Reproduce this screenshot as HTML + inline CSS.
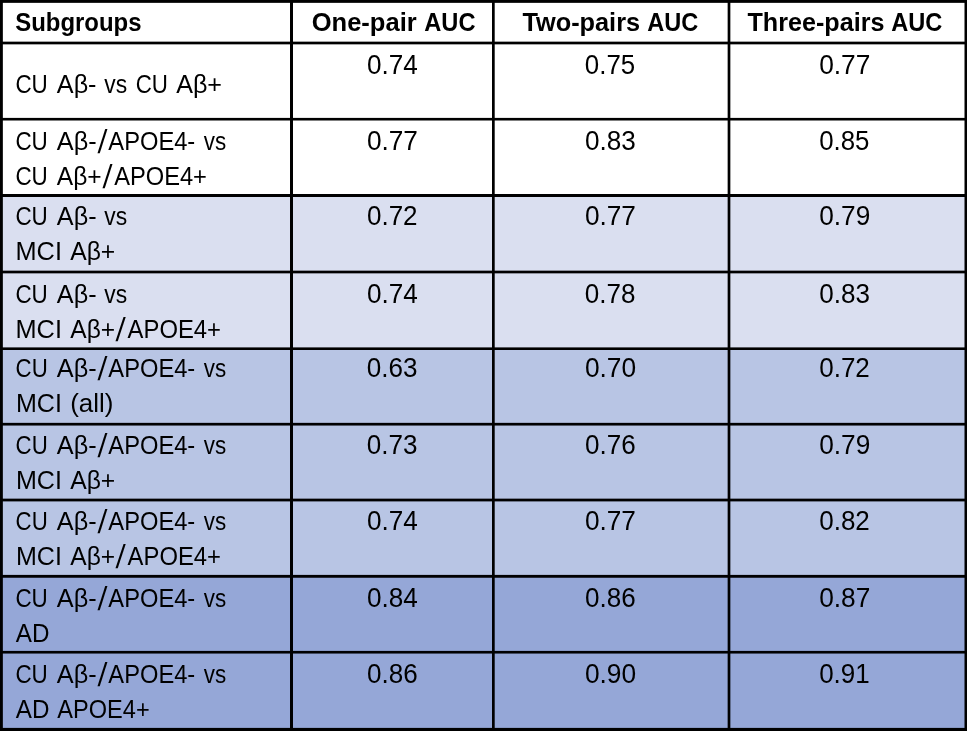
<!DOCTYPE html>
<html lang="en">
<head>
<meta charset="utf-8">
<title>Subgroup AUC table</title>
<style>
html,body{margin:0;padding:0;background:#fff;}
body{width:967px;height:731px;overflow:hidden;}
svg{display:block;}
text{font-family:"Liberation Sans",sans-serif;fill:#000;white-space:pre;}
.b{font-weight:bold;}
</style>
</head>
<body>
<svg width="967" height="731" viewBox="0 0 967 731">
<!-- row shading -->
<rect x="0" y="0" width="967" height="195.5" fill="#ffffff"/>
<rect x="0" y="195.5" width="967" height="153.2" fill="#dadff0"/>
<rect x="0" y="348.7" width="967" height="227.6" fill="#b8c5e4"/>
<rect x="0" y="576.3" width="967" height="154.7" fill="#95a7d7"/>
<!-- grid lines -->
<g fill="#000">
<rect x="0" y="0" width="967" height="2.85"/>
<rect x="0" y="41.65" width="967" height="2.7"/>
<rect x="0" y="117.9" width="967" height="2.6"/>
<rect x="0" y="194" width="967" height="3"/>
<rect x="0" y="270.65" width="967" height="2.7"/>
<rect x="0" y="347.4" width="967" height="2.6"/>
<rect x="0" y="422.85" width="967" height="2.7"/>
<rect x="0" y="498.65" width="967" height="2.75"/>
<rect x="0" y="574.9" width="967" height="2.85"/>
<rect x="0" y="650.9" width="967" height="2.65"/>
<rect x="0" y="727.9" width="967" height="3.1"/>
<rect x="0" y="0" width="2.85" height="731"/>
<rect x="290" y="0" width="3" height="731"/>
<rect x="492" y="0" width="2.7" height="731"/>
<rect x="727.65" y="0" width="2.7" height="731"/>
<rect x="964.5" y="0" width="2.5" height="731"/>
</g>
<!-- cell text -->
<filter id="soft" x="0" y="0" width="967" height="731" filterUnits="userSpaceOnUse"><feGaussianBlur stdDeviation="0.35"/></filter>
<g filter="url(#soft)">
<text id="t0" x="15.20" y="30.60" class="b" font-size="26.3" textLength="126.30" lengthAdjust="spacingAndGlyphs">Subgroups</text>
<text id="t1" x="311.70" y="30.60" class="b" font-size="26.3" textLength="104.98" lengthAdjust="spacingAndGlyphs">One-pair</text>
<text id="t2" x="424.25" y="30.60" class="b" font-size="26.3" textLength="51.22" lengthAdjust="spacingAndGlyphs">AUC</text>
<text id="t3" x="522.41" y="30.60" class="b" font-size="26.3" textLength="117.67" lengthAdjust="spacingAndGlyphs">Two-pairs</text>
<text id="t4" x="647.24" y="30.60" class="b" font-size="26.3" textLength="51.01" lengthAdjust="spacingAndGlyphs">AUC</text>
<text id="t5" x="747.48" y="30.60" class="b" font-size="26.3" textLength="137.00" lengthAdjust="spacingAndGlyphs">Three-pairs</text>
<text id="t6" x="891.25" y="30.60" class="b" font-size="26.3" textLength="51.06" lengthAdjust="spacingAndGlyphs">AUC</text>
<text id="t7" x="15.41" y="92.70" font-size="26.3" textLength="32.40" lengthAdjust="spacingAndGlyphs">CU</text>
<text id="t8" x="56.83" y="92.70" font-size="26.3" textLength="39.69" lengthAdjust="spacingAndGlyphs">Aβ-</text>
<text id="t9" x="104.26" y="92.70" font-size="26.3" textLength="22.85" lengthAdjust="spacingAndGlyphs">vs</text>
<text id="t10" x="135.72" y="92.70" font-size="26.3" textLength="32.18" lengthAdjust="spacingAndGlyphs">CU</text>
<text id="t11" x="176.16" y="92.70" font-size="26.3" textLength="45.90" lengthAdjust="spacingAndGlyphs">Aβ+</text>
<text id="t12" x="15.41" y="149.80" font-size="26.3" textLength="32.40" lengthAdjust="spacingAndGlyphs">CU</text>
<text id="t13" x="56.79" y="149.80" font-size="26.3" textLength="39.83" lengthAdjust="spacingAndGlyphs">Aβ-</text>
<text id="t14" transform="matrix(1.100 0 -0.1004 1.258 97.44 153.17)" font-size="26.3">/</text>
<text id="t15" x="108.37" y="149.80" font-size="26.3" textLength="86.91" lengthAdjust="spacingAndGlyphs">APOE4-</text>
<text id="t16" x="203.84" y="149.80" font-size="26.3" textLength="22.43" lengthAdjust="spacingAndGlyphs">vs</text>
<text id="t17" x="15.41" y="184.85" font-size="26.3" textLength="32.40" lengthAdjust="spacingAndGlyphs">CU</text>
<text id="t18" x="56.78" y="184.85" font-size="26.3" textLength="44.91" lengthAdjust="spacingAndGlyphs">Aβ+</text>
<text id="t19" transform="matrix(1.100 0 -0.1024 1.258 102.52 188.22)" font-size="26.3">/</text>
<text id="t20" x="114.20" y="184.85" font-size="26.3" textLength="92.76" lengthAdjust="spacingAndGlyphs">APOE4+</text>
<text id="t21" x="15.42" y="224.70" font-size="26.3" textLength="32.40" lengthAdjust="spacingAndGlyphs">CU</text>
<text id="t22" x="56.85" y="224.70" font-size="26.3" textLength="39.69" lengthAdjust="spacingAndGlyphs">Aβ-</text>
<text id="t23" x="104.27" y="224.70" font-size="26.3" textLength="22.85" lengthAdjust="spacingAndGlyphs">vs</text>
<text id="t24" x="15.53" y="259.75" font-size="26.3" textLength="46.41" lengthAdjust="spacingAndGlyphs">MCI</text>
<text id="t25" x="70.16" y="259.75" font-size="26.3" textLength="45.10" lengthAdjust="spacingAndGlyphs">Aβ+</text>
<text id="t26" x="15.42" y="302.70" font-size="26.3" textLength="32.40" lengthAdjust="spacingAndGlyphs">CU</text>
<text id="t27" x="56.85" y="302.70" font-size="26.3" textLength="39.69" lengthAdjust="spacingAndGlyphs">Aβ-</text>
<text id="t28" x="104.27" y="302.70" font-size="26.3" textLength="22.85" lengthAdjust="spacingAndGlyphs">vs</text>
<text id="t29" x="15.53" y="337.75" font-size="26.3" textLength="46.41" lengthAdjust="spacingAndGlyphs">MCI</text>
<text id="t30" x="70.27" y="337.75" font-size="26.3" textLength="44.89" lengthAdjust="spacingAndGlyphs">Aβ+</text>
<text id="t31" transform="matrix(1.100 0 -0.1155 1.258 115.61 341.12)" font-size="26.3">/</text>
<text id="t32" x="127.61" y="337.75" font-size="26.3" textLength="93.36" lengthAdjust="spacingAndGlyphs">APOE4+</text>
<text id="t33" x="15.62" y="376.80" font-size="26.3" textLength="32.09" lengthAdjust="spacingAndGlyphs">CU</text>
<text id="t34" x="56.80" y="376.80" font-size="26.3" textLength="39.83" lengthAdjust="spacingAndGlyphs">Aβ-</text>
<text id="t35" transform="matrix(1.100 0 -0.0980 1.258 97.45 380.17)" font-size="26.3">/</text>
<text id="t36" x="108.37" y="376.80" font-size="26.3" textLength="86.91" lengthAdjust="spacingAndGlyphs">APOE4-</text>
<text id="t37" x="203.85" y="376.80" font-size="26.3" textLength="22.42" lengthAdjust="spacingAndGlyphs">vs</text>
<text id="t38" x="15.97" y="411.85" font-size="26.3" textLength="45.94" lengthAdjust="spacingAndGlyphs">MCI</text>
<text id="t39" x="70.14" y="411.85" font-size="26.3" textLength="43.30" lengthAdjust="spacingAndGlyphs">(all)</text>
<text id="t40" x="15.62" y="453.60" font-size="26.3" textLength="32.09" lengthAdjust="spacingAndGlyphs">CU</text>
<text id="t41" x="56.80" y="453.60" font-size="26.3" textLength="39.83" lengthAdjust="spacingAndGlyphs">Aβ-</text>
<text id="t42" transform="matrix(1.100 0 -0.0980 1.258 97.45 456.97)" font-size="26.3">/</text>
<text id="t43" x="108.37" y="453.60" font-size="26.3" textLength="86.91" lengthAdjust="spacingAndGlyphs">APOE4-</text>
<text id="t44" x="203.85" y="453.60" font-size="26.3" textLength="22.42" lengthAdjust="spacingAndGlyphs">vs</text>
<text id="t45" x="15.97" y="488.65" font-size="26.3" textLength="45.94" lengthAdjust="spacingAndGlyphs">MCI</text>
<text id="t46" x="70.16" y="488.65" font-size="26.3" textLength="45.10" lengthAdjust="spacingAndGlyphs">Aβ+</text>
<text id="t47" x="15.62" y="529.60" font-size="26.3" textLength="32.09" lengthAdjust="spacingAndGlyphs">CU</text>
<text id="t48" x="56.80" y="529.60" font-size="26.3" textLength="39.83" lengthAdjust="spacingAndGlyphs">Aβ-</text>
<text id="t49" transform="matrix(1.100 0 -0.0980 1.258 97.45 532.97)" font-size="26.3">/</text>
<text id="t50" x="108.37" y="529.60" font-size="26.3" textLength="86.91" lengthAdjust="spacingAndGlyphs">APOE4-</text>
<text id="t51" x="203.85" y="529.60" font-size="26.3" textLength="22.42" lengthAdjust="spacingAndGlyphs">vs</text>
<text id="t52" x="15.97" y="564.65" font-size="26.3" textLength="45.94" lengthAdjust="spacingAndGlyphs">MCI</text>
<text id="t53" x="70.27" y="564.65" font-size="26.3" textLength="44.88" lengthAdjust="spacingAndGlyphs">Aβ+</text>
<text id="t54" transform="matrix(1.100 0 -0.1153 1.258 115.62 568.02)" font-size="26.3">/</text>
<text id="t55" x="127.62" y="564.65" font-size="26.3" textLength="93.35" lengthAdjust="spacingAndGlyphs">APOE4+</text>
<text id="t56" x="15.43" y="606.70" font-size="26.3" textLength="32.38" lengthAdjust="spacingAndGlyphs">CU</text>
<text id="t57" x="56.81" y="606.70" font-size="26.3" textLength="39.82" lengthAdjust="spacingAndGlyphs">Aβ-</text>
<text id="t58" transform="matrix(1.100 0 -0.0989 1.258 97.45 610.07)" font-size="26.3">/</text>
<text id="t59" x="108.37" y="606.70" font-size="26.3" textLength="86.89" lengthAdjust="spacingAndGlyphs">APOE4-</text>
<text id="t60" x="203.86" y="606.70" font-size="26.3" textLength="22.42" lengthAdjust="spacingAndGlyphs">vs</text>
<text id="t61" x="15.76" y="641.75" font-size="26.3" textLength="33.63" lengthAdjust="spacingAndGlyphs">AD</text>
<text id="t62" x="15.43" y="682.70" font-size="26.3" textLength="32.38" lengthAdjust="spacingAndGlyphs">CU</text>
<text id="t63" x="56.81" y="682.70" font-size="26.3" textLength="39.82" lengthAdjust="spacingAndGlyphs">Aβ-</text>
<text id="t64" transform="matrix(1.100 0 -0.0989 1.258 97.45 686.07)" font-size="26.3">/</text>
<text id="t65" x="108.37" y="682.70" font-size="26.3" textLength="86.89" lengthAdjust="spacingAndGlyphs">APOE4-</text>
<text id="t66" x="203.86" y="682.70" font-size="26.3" textLength="22.42" lengthAdjust="spacingAndGlyphs">vs</text>
<text id="t67" x="15.76" y="717.75" font-size="26.3" textLength="33.63" lengthAdjust="spacingAndGlyphs">AD</text>
<text id="t68" x="57.37" y="717.75" font-size="26.3" textLength="92.32" lengthAdjust="spacingAndGlyphs">APOE4+</text>
<text id="t69" x="366.93" y="73.90" font-size="27" textLength="50.86" lengthAdjust="spacingAndGlyphs">0.74</text>
<text id="t70" x="584.84" y="73.90" font-size="27" textLength="50.38" lengthAdjust="spacingAndGlyphs">0.75</text>
<text id="t71" x="819.18" y="73.90" font-size="27" textLength="51.21" lengthAdjust="spacingAndGlyphs">0.77</text>
<text id="t72" x="366.92" y="149.80" font-size="27" textLength="51.05" lengthAdjust="spacingAndGlyphs">0.77</text>
<text id="t73" x="584.97" y="149.80" font-size="27" textLength="50.81" lengthAdjust="spacingAndGlyphs">0.83</text>
<text id="t74" x="819.18" y="149.80" font-size="27" textLength="50.30" lengthAdjust="spacingAndGlyphs">0.85</text>
<text id="t75" x="366.95" y="224.70" font-size="27" textLength="50.64" lengthAdjust="spacingAndGlyphs">0.72</text>
<text id="t76" x="584.92" y="224.70" font-size="27" textLength="51.05" lengthAdjust="spacingAndGlyphs">0.77</text>
<text id="t77" x="819.20" y="224.70" font-size="27" textLength="51.05" lengthAdjust="spacingAndGlyphs">0.79</text>
<text id="t78" x="366.94" y="302.70" font-size="27" textLength="50.85" lengthAdjust="spacingAndGlyphs">0.74</text>
<text id="t79" x="584.81" y="302.70" font-size="27" textLength="50.67" lengthAdjust="spacingAndGlyphs">0.78</text>
<text id="t80" x="819.21" y="302.70" font-size="27" textLength="50.70" lengthAdjust="spacingAndGlyphs">0.83</text>
<text id="t81" x="366.82" y="376.80" font-size="27" textLength="50.74" lengthAdjust="spacingAndGlyphs">0.63</text>
<text id="t82" x="584.92" y="376.80" font-size="27" textLength="51.25" lengthAdjust="spacingAndGlyphs">0.70</text>
<text id="t83" x="819.20" y="376.80" font-size="27" textLength="50.66" lengthAdjust="spacingAndGlyphs">0.72</text>
<text id="t84" x="366.82" y="453.60" font-size="27" textLength="50.74" lengthAdjust="spacingAndGlyphs">0.73</text>
<text id="t85" x="584.96" y="453.60" font-size="27" textLength="50.74" lengthAdjust="spacingAndGlyphs">0.76</text>
<text id="t86" x="819.20" y="453.60" font-size="27" textLength="51.06" lengthAdjust="spacingAndGlyphs">0.79</text>
<text id="t87" x="366.94" y="529.60" font-size="27" textLength="50.85" lengthAdjust="spacingAndGlyphs">0.74</text>
<text id="t88" x="584.93" y="529.60" font-size="27" textLength="51.04" lengthAdjust="spacingAndGlyphs">0.77</text>
<text id="t89" x="819.20" y="529.60" font-size="27" textLength="50.66" lengthAdjust="spacingAndGlyphs">0.82</text>
<text id="t90" x="366.94" y="606.70" font-size="27" textLength="50.85" lengthAdjust="spacingAndGlyphs">0.84</text>
<text id="t91" x="584.96" y="606.70" font-size="27" textLength="50.74" lengthAdjust="spacingAndGlyphs">0.86</text>
<text id="t92" x="819.18" y="606.70" font-size="27" textLength="51.20" lengthAdjust="spacingAndGlyphs">0.87</text>
<text id="t93" x="366.96" y="682.70" font-size="27" textLength="50.74" lengthAdjust="spacingAndGlyphs">0.86</text>
<text id="t94" x="584.92" y="682.70" font-size="27" textLength="51.24" lengthAdjust="spacingAndGlyphs">0.90</text>
<text id="t95" x="819.14" y="682.70" font-size="27" textLength="50.58" lengthAdjust="spacingAndGlyphs">0.91</text>
</g>
</svg>
</body>
</html>
